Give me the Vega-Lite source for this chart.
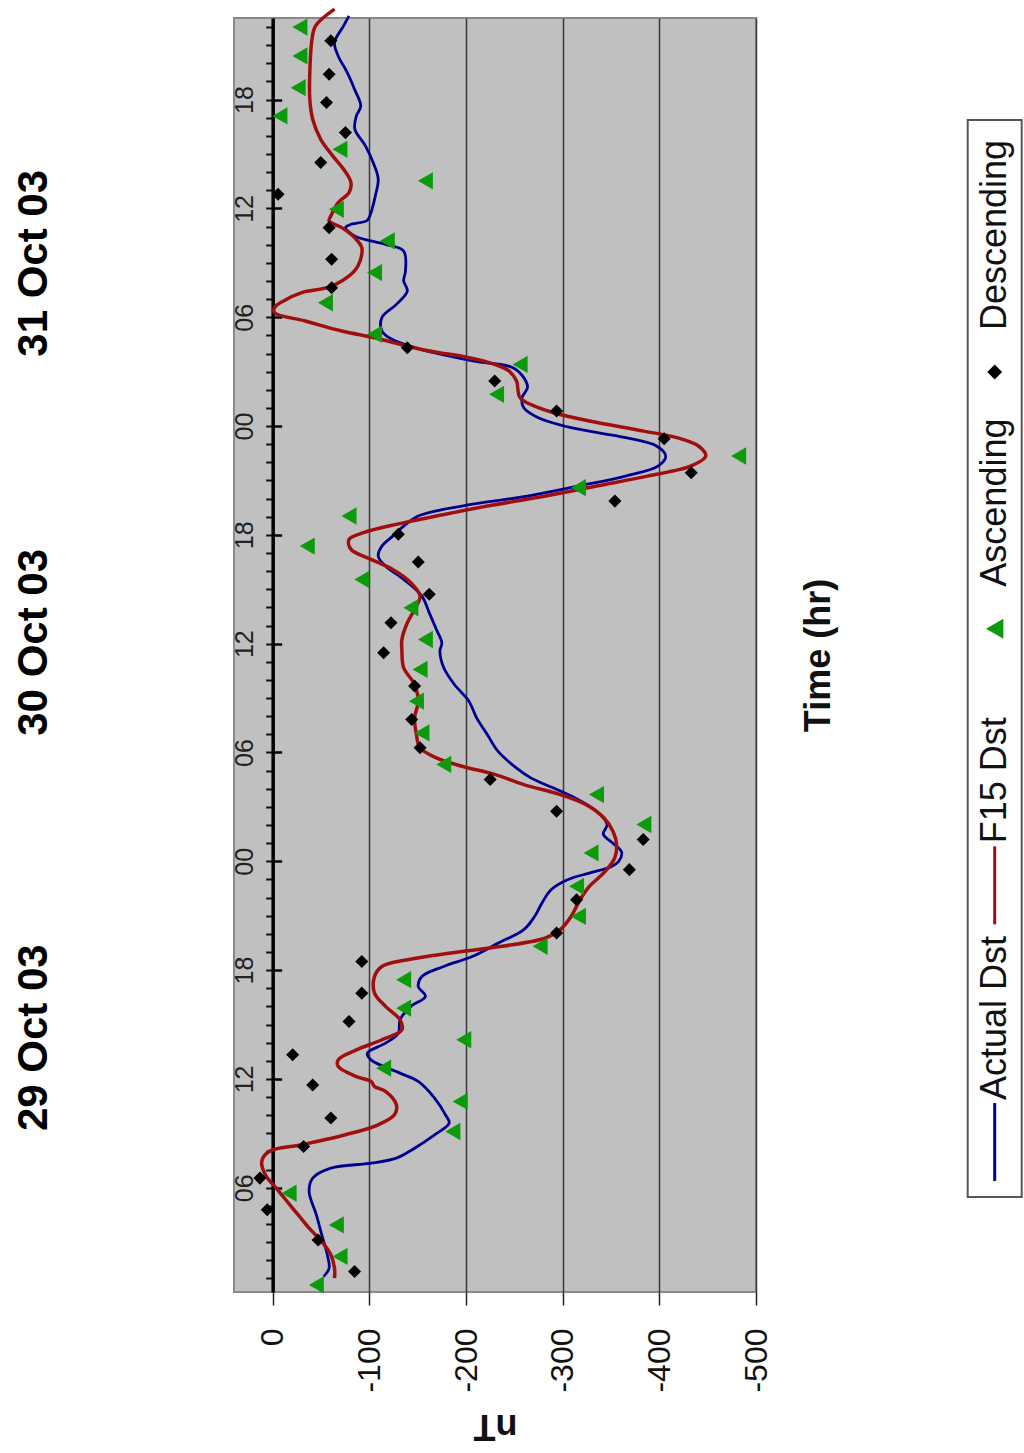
{
  "$schema": "https://vega.github.io/schema/vega-lite/v6.json",
  "padding": {"left": 11, "top": 6, "right": 0, "bottom": 0},
  "config": {
    "font": "Liberation Sans",
    "view": {"stroke": null},
    "background": "white"
  },
  "datasets": {
    "actual": [
      {"h":1.1,"v":-52.7},{"h":1.56,"v":-58.4},{"h":2.3,"v":-56.5},{"h":3.4,"v":-50.8},{"h":4.5,"v":-45.2},{"h":5.79,"v":-37.7},{"h":6.53,"v":-41.4},{"h":7.08,"v":-60.2},{"h":7.35,"v":-101.7},{"h":7.63,"v":-128},{"h":8.18,"v":-146.8},{"h":8.92,"v":-167.5},{"h":9.56,"v":-182.6},{"h":10.02,"v":-178.8},{"h":10.94,"v":-167.5},{"h":11.86,"v":-150.6},{"h":12.32,"v":-131.8},{"h":13.05,"v":-101.7},{"h":13.42,"v":-98},{"h":13.97,"v":-116.7},{"h":14.52,"v":-130},{"h":15.26,"v":-131.8},{"h":16.0,"v":-143},{"h":16.55,"v":-158},{"h":17.1,"v":-150.6},{"h":17.65,"v":-154.4},{"h":18.2,"v":-177},{"h":18.76,"v":-207},{"h":19.49,"v":-233.4},{"h":20.23,"v":-259.8},{"h":20.96,"v":-271},{"h":21.7,"v":-278.6},{"h":22.43,"v":-288},{"h":22.98,"v":-305},{"h":23.35,"v":-327.6},{"h":23.7,"v":-350},{"h":24.0,"v":-358},{"h":24.5,"v":-361},{"h":25.0,"v":-352},{"h":25.5,"v":-342},{"h":26.03,"v":-346},{"h":26.76,"v":-335},{"h":27.5,"v":-312.5},{"h":28.05,"v":-290},{"h":28.6,"v":-267},{"h":29.15,"v":-252},{"h":30.07,"v":-233},{"h":30.99,"v":-222},{"h":31.91,"v":-211},{"h":32.83,"v":-203},{"h":33.75,"v":-188},{"h":34.67,"v":-177},{"h":35.59,"v":-173},{"h":36.05,"v":-175},{"h":36.78,"v":-169.4},{"h":37.7,"v":-162},{"h":38.62,"v":-154.4},{"h":39.54,"v":-135.5},{"h":40.28,"v":-116.7},{"h":40.83,"v":-109.2},{"h":41.38,"v":-113},{"h":41.93,"v":-124.2},{"h":42.48,"v":-135.5},{"h":43.04,"v":-150.6},{"h":43.59,"v":-195.8},{"h":44.14,"v":-263.6},{"h":44.69,"v":-316},{"h":45.24,"v":-365},{"h":45.8,"v":-399},{"h":46.35,"v":-406.6},{"h":46.9,"v":-397},{"h":47.36,"v":-365.2},{"h":47.91,"v":-308.7},{"h":48.46,"v":-274.8},{"h":49.01,"v":-259.8},{"h":49.56,"v":-257.9},{"h":50.12,"v":-263.6},{"h":50.67,"v":-259.8},{"h":51.22,"v":-248.5},{"h":51.59,"v":-207},{"h":52.32,"v":-146.8},{"h":52.87,"v":-120.5},{"h":53.24,"v":-113},{"h":53.98,"v":-113},{"h":54.71,"v":-128},{"h":55.45,"v":-139.3},{"h":56.0,"v":-135.5},{"h":56.55,"v":-137.4},{"h":57.65,"v":-135.5},{"h":58.02,"v":-116.7},{"h":58.48,"v":-84.7},{"h":58.94,"v":-75.3},{"h":59.1,"v":-80},{"h":59.35,"v":-98},{"h":59.77,"v":-101.7},{"h":60.69,"v":-106.2},{"h":61.61,"v":-109.2},{"h":62.34,"v":-105.4},{"h":63.45,"v":-96},{"h":64.37,"v":-85},{"h":65.1,"v":-86.6},{"h":65.65,"v":-91.1},{"h":66.57,"v":-84.7},{"h":67.49,"v":-77.2},{"h":68.41,"v":-67.8},{"h":69.15,"v":-64},{"h":70.07,"v":-73.4},{"h":70.62,"v":-79}
    ],
    "f15": [
      {"h":1.01,"v":-64},{"h":1.56,"v":-64},{"h":2.3,"v":-60.2},{"h":3.03,"v":-50.8},{"h":3.77,"v":-37.7},{"h":4.5,"v":-26.4},{"h":5.24,"v":-15},{"h":5.97,"v":-3.8},{"h":6.71,"v":7.5},{"h":7.45,"v":11.3},{"h":8.0,"v":3.8},{"h":8.37,"v":-30.1},{"h":8.92,"v":-75.3},{"h":9.47,"v":-109.2},{"h":10.02,"v":-126},{"h":10.57,"v":-128},{"h":11.31,"v":-116.7},{"h":11.58,"v":-105.4},{"h":11.86,"v":-101.7},{"h":12.13,"v":-86.6},{"h":12.69,"v":-67.8},{"h":13.05,"v":-67.8},{"h":13.6,"v":-86.6},{"h":14.16,"v":-113},{"h":14.71,"v":-133.7},{"h":15.26,"v":-131.8},{"h":16.0,"v":-116.7},{"h":16.73,"v":-105.4},{"h":17.65,"v":-105.4},{"h":18.2,"v":-113},{"h":18.57,"v":-139.3},{"h":18.94,"v":-184.5},{"h":19.31,"v":-237.2},{"h":19.77,"v":-282.4},{"h":20.23,"v":-297.4},{"h":20.96,"v":-308.7},{"h":21.88,"v":-318},{"h":22.62,"v":-327.6},{"h":23.17,"v":-338.9},{"h":23.72,"v":-348.3},{"h":24.19,"v":-353.9},{"h":24.92,"v":-355.8},{"h":25.66,"v":-352},{"h":26.4,"v":-342.6},{"h":27.13,"v":-323.8},{"h":27.68,"v":-297.4},{"h":28.23,"v":-259.8},{"h":28.79,"v":-229.7},{"h":29.24,"v":-195.8},{"h":29.7,"v":-169.4},{"h":30.26,"v":-152.5},{"h":30.99,"v":-148.7},{"h":31.91,"v":-146.8},{"h":32.83,"v":-150.6},{"h":33.75,"v":-146.8},{"h":34.67,"v":-135.5},{"h":35.59,"v":-133.7},{"h":36.23,"v":-133.7},{"h":37.15,"v":-139.3},{"h":37.89,"v":-146.8},{"h":38.62,"v":-152.5},{"h":39.36,"v":-143},{"h":40.09,"v":-124.2},{"h":40.65,"v":-101.7},{"h":41.2,"v":-81},{"h":41.75,"v":-79},{"h":42.12,"v":-94},{"h":42.58,"v":-128},{"h":43.04,"v":-169.4},{"h":43.59,"v":-222},{"h":44.14,"v":-282.4},{"h":44.69,"v":-335},{"h":45.24,"v":-387.8},{"h":45.8,"v":-433},{"h":46.35,"v":-448},{"h":46.9,"v":-440.5},{"h":47.36,"v":-418},{"h":47.72,"v":-384},{"h":48.28,"v":-327.6},{"h":48.64,"v":-297.4},{"h":49.01,"v":-274.8},{"h":49.56,"v":-256},{"h":50.48,"v":-252.3},{"h":51.03,"v":-244.7},{"h":51.4,"v":-229.7},{"h":51.77,"v":-203.3},{"h":52.14,"v":-162},{"h":52.51,"v":-131.8},{"h":52.87,"v":-105.4},{"h":53.24,"v":-71.5},{"h":53.79,"v":-33.9},{"h":54.25,"v":-1.9},{"h":54.53,"v":-1.9},{"h":54.9,"v":-11.3},{"h":55.36,"v":-30.1},{"h":55.63,"v":-56.5},{"h":56.0,"v":-71.5},{"h":56.55,"v":-84.7},{"h":57.1,"v":-90.4},{"h":57.84,"v":-92.2},{"h":58.39,"v":-84.7},{"h":58.94,"v":-71.5},{"h":59.31,"v":-58.4},{"h":59.58,"v":-60.2},{"h":60.32,"v":-67.8},{"h":60.87,"v":-79},{"h":61.42,"v":-81},{"h":62.16,"v":-73.4},{"h":62.9,"v":-62.1},{"h":63.81,"v":-49.7},{"h":64.92,"v":-41.4},{"h":66.02,"v":-38.4},{"h":67.49,"v":-38.4},{"h":69.33,"v":-40.7},{"h":70.07,"v":-44.4},{"h":70.99,"v":-64}
    ],
    "asc": [
      {"h":0.64,"v":-45.2},{"h":2.21,"v":-69.7},{"h":3.95,"v":-65.9},{"h":5.7,"v":-17},{"h":9.1,"v":-186.4},{"h":10.76,"v":-194},{"h":12.59,"v":-114.8},{"h":14.16,"v":-197.7},{"h":15.9,"v":-135.5},{"h":17.47,"v":-135.5},{"h":19.31,"v":-276.7},{"h":20.96,"v":-316.3},{"h":22.62,"v":-314.4},{"h":24.46,"v":-329.4},{"h":26.03,"v":-384},{"h":27.68,"v":-335},{"h":29.34,"v":-177},{"h":31.08,"v":-154.4},{"h":32.83,"v":-148.7},{"h":34.58,"v":-152.5},{"h":36.23,"v":-158},{"h":37.98,"v":-143},{"h":39.54,"v":-92.2},{"h":41.38,"v":-35.8},{"h":43.04,"v":-79},{"h":44.6,"v":-316.3},{"h":46.35,"v":-482},{"h":49.75,"v":-231.6},{"h":51.4,"v":-256},{"h":53.06,"v":-105.4},{"h":54.8,"v":-54.6},{"h":56.46,"v":-105.4},{"h":58.21,"v":-118.6},{"h":59.95,"v":-65.9},{"h":61.52,"v":-158},{"h":63.26,"v":-69.6},{"h":65.1,"v":-7.5},{"h":66.66,"v":-26.4},{"h":68.41,"v":-28.2},{"h":70.0,"v":-28.2}
    ],
    "desc": [
      {"h":1.38,"v":-84.7},{"h":3.12,"v":-47},{"h":4.78,"v":5.6},{"h":6.53,"v":13.2},{"h":8.27,"v":-32},{"h":9.84,"v":-60.2},{"h":11.67,"v":-41.4},{"h":13.33,"v":-20.7},{"h":15.17,"v":-79},{"h":16.73,"v":-92.2},{"h":18.48,"v":-92.2},{"h":20.04,"v":-293.7},{"h":21.88,"v":-314.4},{"h":23.54,"v":-369},{"h":25.2,"v":-383.3},{"h":26.76,"v":-293.7},{"h":28.51,"v":-225},{"h":30.26,"v":-152.5},{"h":31.82,"v":-143.8},{"h":33.66,"v":-146.8},{"h":35.5,"v":-114.8},{"h":37.15,"v":-122.4},{"h":38.72,"v":-162},{"h":40.5,"v":-150.6},{"h":42.03,"v":-130},{"h":43.86,"v":-354},{"h":45.43,"v":-433},{"h":47.3,"v":-405},{"h":48.83,"v":-293.7},{"h":50.48,"v":-229.7},{"h":52.32,"v":-139.3},{"h":55.63,"v":-61},{"h":57.2,"v":-61},{"h":58.94,"v":-58.4},{"h":60.78,"v":-5.6},{"h":62.53,"v":-49.7},{"h":64.18,"v":-75.3},{"h":65.84,"v":-55.7},{"h":67.4,"v":-58.4},{"h":69.24,"v":-60.2}
    ],
    "legend": [
      {"series":"Actual Dst"},{"series":"F15 Dst"},{"series":"Ascending"},{"series":"Descending"}
    ]
  },
  "hconcat": [
    {
      "width": 522,
      "height": 1274,
      "view": {"fill": "#c0c0c0", "stroke": "#8a8a8a", "strokeWidth": 2},
      "resolve": {"axis": {"y": "independent"}},
      "layer": [
        {
          "data": {"name": "actual"},
          "mark": {"type": "line", "color": "#000090", "strokeWidth": 2.8, "strokeJoin": "round", "interpolate": "catmull-rom"},
          "encoding": {
            "x": {"field": "v", "type": "quantitative", "title": "nT",
              "scale": {"domain": [-500, 40], "reverse": true, "nice": false, "zero": false},
              "axis": {
                "orient": "bottom", "values": [0, -100, -200, -300, -400, -500],
                "labelExpr": "'' + datum.value",
                "grid": true, "gridColor": "#3a3a3a", "gridWidth": 1.5,
                "domain": false, "tickSize": 13, "tickWidth": 1.5, "tickColor": "#222",
                "labelAngle": 270, "labelAlign": "right", "labelBaseline": "middle",
                "labelFontSize": 32, "labelColor": "#111", "labelPadding": 23,
                "titleAngle": 180, "titleFontSize": 36, "titleFontWeight": "bold",
                "titleBaseline": "bottom", "titlePadding": 14, "titleColor": "#111"
              }
            },
            "y": {"field": "h", "type": "quantitative",
              "scale": {"domain": [0.25, 70.5], "nice": false, "zero": false},
              "axis": {
                "orient": "left", "offset": -38.67, "title": null,
                "values": [1,2,3,4,5,6,7,8,9,10,11,12,13,14,15,16,17,18,19,20,21,22,23,24,25,26,27,28,29,30,31,32,33,34,35,36,37,38,39,40,41,42,43,44,45,46,47,48,49,50,51,52,53,54,55,56,57,58,59,60,61,62,63,64,65,66,67,68,69,70],
                "labelExpr": "datum.value % 6 == 0 ? ((datum.value % 24) < 10 ? '0' : '') + (datum.value % 24) : ''",
                "labelOverlap": false, "labelAngle": 270, "labelAlign": "center", "labelBaseline": "alphabetic",
                "labelFontSize": 25, "labelColor": "#222", "labelPadding": 13,
                "tickSize": 7, "tickWidth": 2, "tickColor": "#111",
                "domainColor": "#000", "domainWidth": 3.5, "grid": false
              }
            },
            "order": {"field": "h", "type": "quantitative"}
          }
        },
        {
          "data": {"name": "f15"},
          "mark": {"type": "line", "color": "#a00f0f", "strokeWidth": 3.5, "strokeJoin": "round", "interpolate": "catmull-rom"},
          "encoding": {
            "x": {"field": "v", "type": "quantitative", "title": "nT",
              "scale": {"domain": [-500, 40], "reverse": true, "nice": false, "zero": false}},
            "y": {"field": "h", "type": "quantitative",
              "scale": {"domain": [0.25, 70.5], "nice": false, "zero": false},
              "axis": {
                "orient": "right", "offset": -483.33, "title": null,
                "values": [6, 12, 18, 24, 30, 36, 42, 48, 54, 60, 66],
                "labels": false, "domain": false, "grid": false,
                "tickSize": 9, "tickWidth": 2.5, "tickColor": "#000"
              }
            },
            "order": {"field": "h", "type": "quantitative"}
          }
        },
        {
          "data": {"name": "asc"},
          "mark": {"type": "point", "shape": "triangle-left", "filled": true, "color": "#0b9b0b", "opacity": 1, "size": 300},
          "encoding": {
            "x": {"field": "v", "type": "quantitative", "title": "nT",
              "scale": {"domain": [-500, 40], "reverse": true, "nice": false, "zero": false}},
            "y": {"field": "h", "type": "quantitative",
              "scale": {"domain": [0.25, 70.5], "nice": false, "zero": false},
              "axis": {
                "orient": "left", "offset": 0, "title": null,
                "values": [14.3, 36.1, 57.0],
                "labelExpr": "datum.value < 25 ? '29 Oct 03' : (datum.value < 47 ? '30 Oct 03' : '31 Oct 03')",
                "ticks": false, "tickSize": 0, "domain": false, "grid": false,
                "labelOverlap": false, "labelLimit": 0, "labelAngle": 270, "labelAlign": "center", "labelBaseline": "middle",
                "labelFontSize": 42, "labelFontWeight": "bold", "labelColor": "#000", "labelPadding": 201
              }
            }
          }
        },
        {
          "data": {"name": "desc"},
          "mark": {"type": "point", "shape": "diamond", "filled": true, "color": "#000", "opacity": 1, "size": 170},
          "encoding": {
            "x": {"field": "v", "type": "quantitative", "title": "nT",
              "scale": {"domain": [-500, 40], "reverse": true, "nice": false, "zero": false}},
            "y": {"field": "h", "type": "quantitative",
              "scale": {"domain": [0.25, 70.5], "nice": false, "zero": false},
              "axis": {
                "orient": "right", "title": "Time (hr)",
                "labels": false, "ticks": false, "tickSize": 0, "domain": false, "grid": false,
                "titleAngle": 270, "titleAlign": "center", "titleBaseline": "middle",
                "titleFontSize": 36, "titleFontWeight": "bold", "titleColor": "#111", "titlePadding": 62
              }
            }
          }
        }
      ]
    },
    {
      "vconcat": [
        {
          "width": 54,
          "height": 101.6,
          "data": {"values": []},
          "mark": {"type": "point"},
          "encoding": {}
        },
        {
          "width": 54,
          "height": 1077,
          "view": {"fill": "white", "stroke": "#555", "strokeWidth": 2},
          "data": {"name": "legend"},
          "encoding": {
            "y": {"field": "series", "type": "nominal",
              "scale": {"type": "point", "padding": 0, "domain": ["Descending", "Ascending", "F15 Dst", "Actual Dst"], "range": [252, 1022]},
              "axis": null}
          },
          "layer": [
            {
              "transform": [{"filter": "datum.series == 'Actual Dst' || datum.series == 'F15 Dst'"}],
              "mark": {"type": "point", "shape": "M0,-1L0,1", "filled": false, "strokeWidth": 3, "size": 6084, "opacity": 1},
              "encoding": {
                "color": {"field": "series", "type": "nominal",
                  "scale": {"domain": ["Actual Dst", "F15 Dst"], "range": ["#000090", "#a00f0f"]},
                  "legend": null}
              }
            },
            {
              "transform": [{"filter": "datum.series == 'Ascending'"}],
              "mark": {"type": "point", "shape": "triangle-left", "filled": true, "color": "#0b9b0b", "opacity": 1, "size": 400}
            },
            {
              "transform": [{"filter": "datum.series == 'Descending'"}],
              "mark": {"type": "point", "shape": "diamond", "filled": true, "color": "#000", "opacity": 1, "size": 220}
            },
            {
              "mark": {"type": "text", "angle": 270, "align": "left", "baseline": "middle", "dx": 42, "fontSize": 36, "color": "#111"},
              "encoding": {"text": {"field": "series", "type": "nominal"}}
            }
          ]
        }
      ],
      "spacing": 0,
      "bounds": "flush"
    }
  ],
  "spacing": 211.7,
  "bounds": "flush"
}
